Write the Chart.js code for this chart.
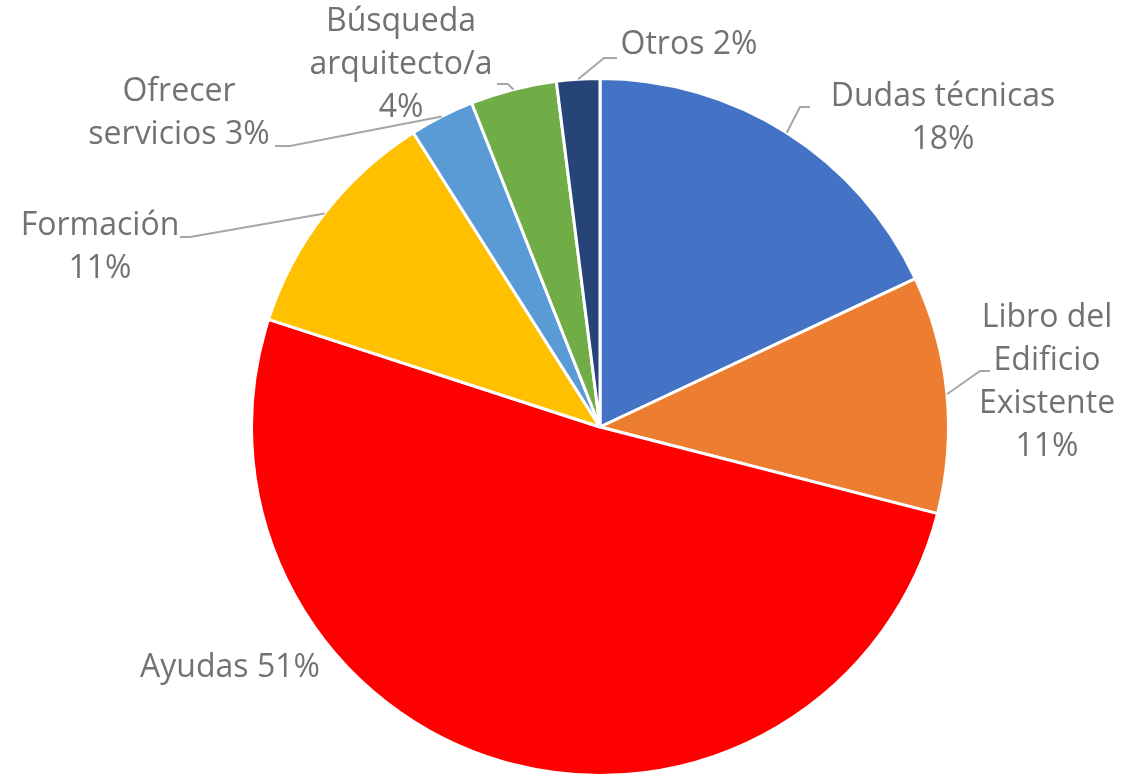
<!DOCTYPE html>
<html lang="es">
<head>
<meta charset="utf-8">
<title>Consultas por tema</title>
<script src="https://cdn.jsdelivr.net/npm/chart.js@4.4.1/dist/chart.umd.min.js"></script>
<style>
    html, body { margin: 0; padding: 0; background: #fff; }
    #wrap { width: 1140px; height: 778px; }
</style>
</head>
<body>
<div id="wrap"><canvas id="pieChart" width="1140" height="778"></canvas></div>
<script>
// Data
const categories = ['Dudas técnicas', 'Libro del Edificio Existente', 'Ayudas', 'Formación', 'Ofrecer servicios', 'Búsqueda arquitecto/a', 'Otros'];
const shares = [18, 11, 51, 11, 3, 4, 2];
const labelLines = [
    ['Dudas técnicas', '18%'],
    ['Libro del', 'Edificio', 'Existente', '11%'],
    ['Ayudas 51%'],
    ['Formación', '11%'],
    ['Ofrecer', 'servicios 3%'],
    ['Búsqueda', 'arquitecto/a', '4%'],
    ['Otros 2%']
];
const sliceColors = ['#4472C4', '#ED7D31', '#FF0000', '#FFC000', '#5B9BD5', '#70AD47', '#264478'];

// Where each label sits (text block centre, first line) and the leader elbow, if any
const labelLayout = [
    { x: 943, y: 97, elbow: [800, 107], end: [810, 107] },
    { x: 1047, y: 318, elbow: [980, 371], end: [990, 371] },
    { x: 230, y: 668, elbow: null },
    { x: 100, y: 226, elbow: [190, 237], end: [180, 237] },
    { x: 179, y: 92, elbow: [290, 146], end: [275, 146] },
    { x: 401, y: 22, elbow: [508, 84], end: [497, 84] },
    { x: 689, y: 45, elbow: [604, 58], end: [617, 58] }
];

const LINE_HEIGHT = 43;

// Draws the outside labels with their leader lines
const outsideLabels = {
    id: 'outsideLabels',
    afterDatasetsDraw(chart) {
        const ctx = chart.ctx;
        const arcs = chart.getDatasetMeta(0).data;
        ctx.save();
        arcs.forEach((arc, i) => {
            const spot = labelLayout[i];
            if (spot.elbow) {
                const mid = (arc.startAngle + arc.endAngle) / 2;
                const sx = arc.x + Math.cos(mid) * arc.outerRadius;
                const sy = arc.y + Math.sin(mid) * arc.outerRadius;
                ctx.beginPath();
                ctx.moveTo(sx, sy);
                ctx.lineTo(spot.elbow[0], spot.elbow[1]);
                ctx.lineTo(spot.end[0], spot.end[1]);
                ctx.strokeStyle = '#A6A6A6';
                ctx.lineWidth = 2;
                ctx.stroke();
            }
            ctx.fillStyle = '#757171';
            ctx.font = '32px "Open Sans", sans-serif';
            ctx.textAlign = 'center';
            ctx.textBaseline = 'middle';
            labelLines[i].forEach((line, k) => {
                ctx.fillText(line, spot.x, spot.y + k * LINE_HEIGHT);
            });
        });
        ctx.restore();
    }
};

function initPie() {
    const ctx = document.getElementById('pieChart').getContext('2d');
    new Chart(ctx, {
        type: 'pie',
        data: {
            labels: categories,
            datasets: [{
                data: shares,
                backgroundColor: sliceColors,
                borderColor: '#FFFFFF',
                borderWidth: 3
            }]
        },
        options: {
            responsive: false,
            animation: false,
            layout: {
                padding: { left: 250, right: 190, top: 77, bottom: 1 }
            },
            plugins: {
                legend: { display: false },
                tooltip: { enabled: false }
            }
        },
        plugins: [outsideLabels]
    });
}

document.addEventListener('DOMContentLoaded', initPie);
</script>
</body>
</html>
